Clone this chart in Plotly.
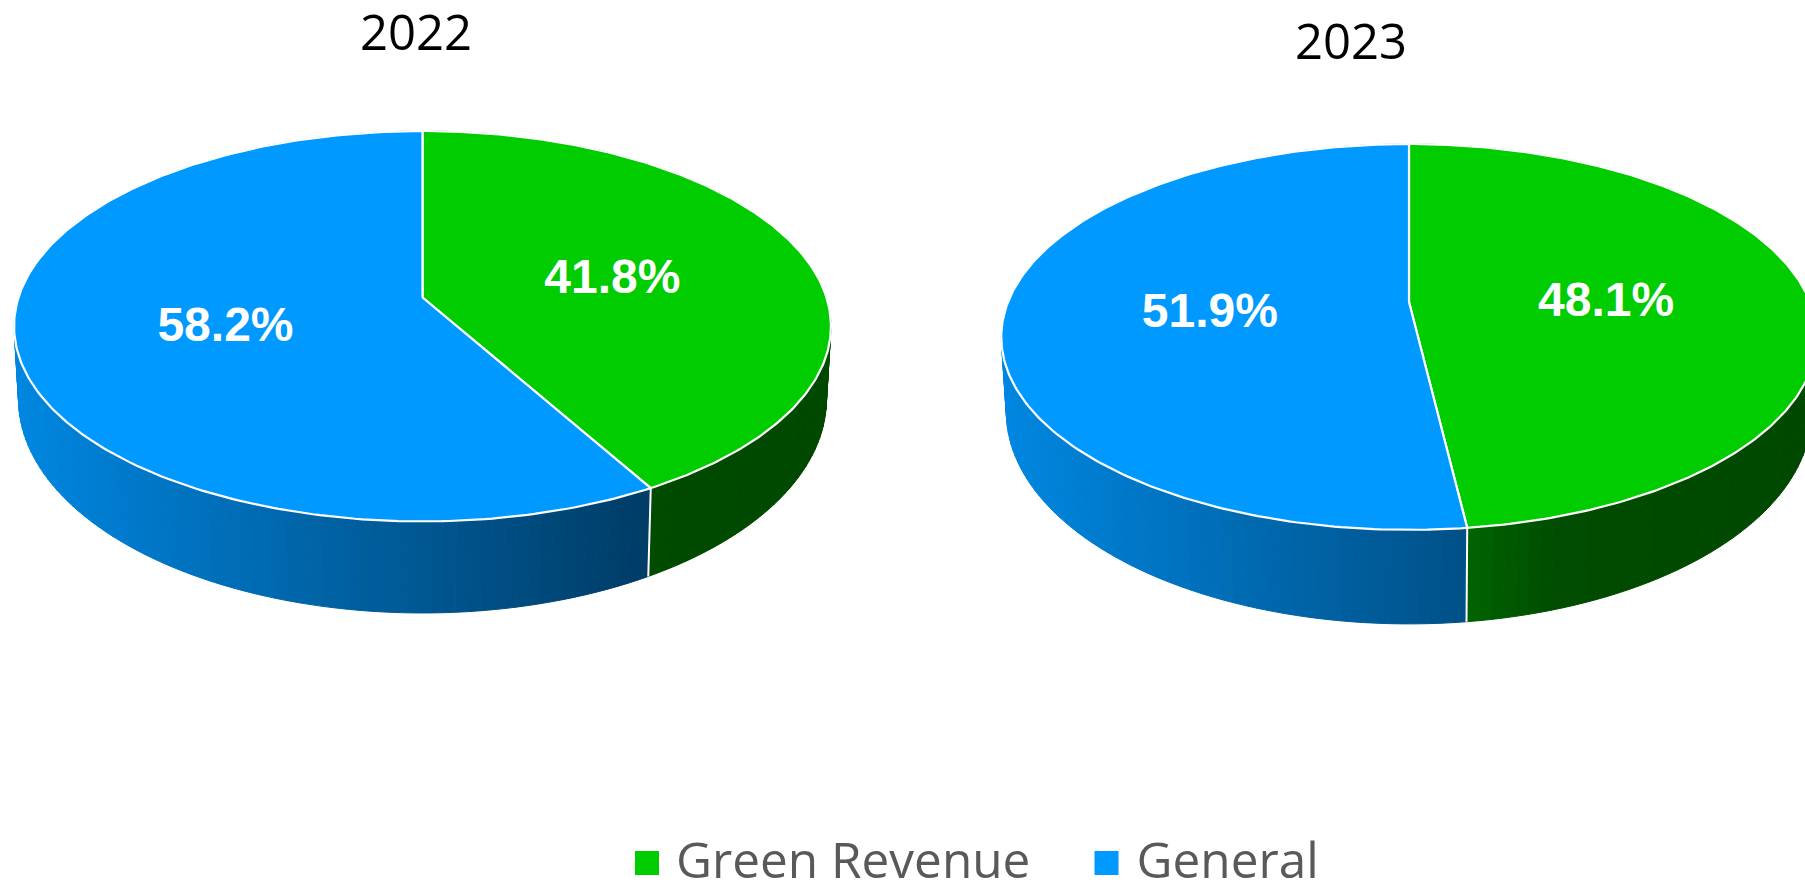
import numpy as np
import plotly.graph_objects as go

# ---- data ----
years = ["2022", "2023"]
categories = ["Green Revenue", "General"]
green_share = [41.8, 48.1]
general_share = [58.2, 51.9]

# ---- drawing set-up (pixels of the 1805x886 page) ----
W, H = 1805, 886
FACE_COLORS = {"Green Revenue": "#00CC00", "General": "#0099FF"}
PIES = [
    dict(cx=422.5, cy=297.5, A=191.0, B=404.0, k=0.147,
         base_cy=367.5, base_A=209.4, base_B=399.6, title_xy=(416, 31)),
    dict(cx=1409.0, cy=302.0, A=186.6, B=401.0, k=0.181,
         base_cy=373.6, base_A=205.0, base_B=396.0, title_xy=(1351, 40)),
]
LABEL_DROP = 7
LEGEND_Y = 863
LEGEND_TEXT_Y = 866
LEGEND_MARKER_X = {"Green Revenue": 647, "General": 1106.5}
LEGEND_TEXT_X = {"Green Revenue": 676, "General": 1136.5}


def project(p, theta, r=1.0, base=False):
    """Angle in radians clockwise from 12 o'clock -> page pixels, perspective disc."""
    u, v = r * np.sin(theta), -r * np.cos(theta)
    d = 1 - p["k"] * v
    if base:
        return p["cx"] + p["base_B"] * u / d, p["base_cy"] + p["base_A"] * v / d
    return p["cx"] + p["B"] * u / d, p["cy"] + p["A"] * v / d


def side_color(cat, t):
    if cat == "General":
        return f"rgb(0,{135 - 96 * t:.0f},{225 - 158 * t:.0f})"
    g = np.interp(t, [0.5, 0.57, 0.68, 1.0], [108, 100, 76, 72])
    return f"rgb(0,{g:.0f},0)"


fig = go.Figure()

for p, g_val, b_val in zip(PIES, green_share, general_share):
    total = g_val + b_val
    split = 2 * np.pi * g_val / total
    spans = [("Green Revenue", 0.0, split), ("General", split, 2 * np.pi)]
    quads = []
    for cat, a0, a1 in spans:
        n = int(np.ceil((a1 - a0) / np.radians(1.5)))
        edges = np.linspace(a0, a1, n + 1)
        for e0, e1 in zip(edges[:-1], edges[1:]):
            quads.append((-np.cos((e0 + e1) / 2), cat, e0, e1))
    quads.sort(key=lambda q: q[0])
    x_left = p["cx"] - p["B"] / np.sqrt(1 - p["k"] ** 2)
    x_span = 2 * p["B"] / np.sqrt(1 - p["k"] ** 2)
    for _, cat, e0, e1 in quads:
        tx0, ty0 = project(p, e0)
        tx1, ty1 = project(p, e1)
        bx1, by1 = project(p, e1, base=True)
        bx0, by0 = project(p, e0, base=True)
        t = float(np.clip(((tx0 + tx1) / 2 - x_left) / x_span, 0, 1))
        c = side_color(cat, t)
        fig.add_trace(go.Scatter(
            x=[tx0, tx1, bx1, bx0, tx0], y=[ty0, ty1, by1, by0, ty0],
            mode="lines", fill="toself", fillcolor=c,
            line=dict(color=c, width=1), hoverinfo="skip", showlegend=False))
    sx0, sy0 = project(p, split)
    sx1, sy1 = project(p, split, base=True)
    fig.add_trace(go.Scatter(x=[sx0, sx1], y=[sy0, sy1], mode="lines",
                             line=dict(color="white", width=2),
                             hoverinfo="skip", showlegend=False))
    for cat, a0, a1 in spans:
        th = np.linspace(a0, a1, 240)
        ex, ey = project(p, th)
        xs = np.r_[p["cx"], ex, p["cx"]]
        ys = np.r_[p["cy"], ey, p["cy"]]
        fig.add_trace(go.Scatter(x=xs, y=ys, mode="lines", fill="toself",
                                 fillcolor=FACE_COLORS[cat],
                                 line=dict(color="white", width=2.2),
                                 hoverinfo="skip", showlegend=False))
    for (cat, a0, a1), val in zip(spans, (g_val, b_val)):
        lx, ly = project(p, (a0 + a1) / 2, r=0.495)
        fig.add_trace(go.Scatter(
            x=[float(lx)], y=[float(ly) + LABEL_DROP], mode="text", text=[f"{val:.1f}%"],
            textposition="middle center",
            textfont=dict(family="Liberation Sans", size=48, color="white", weight="bold"),
            hoverinfo="skip", showlegend=False))

# legend keys and names
for cat in categories:
    fig.add_trace(go.Scatter(
        x=[LEGEND_MARKER_X[cat]], y=[LEGEND_Y], mode="markers",
        marker=dict(symbol="square", size=24, color=FACE_COLORS[cat]),
        hoverinfo="skip", showlegend=False))
    fig.add_trace(go.Scatter(
        x=[LEGEND_TEXT_X[cat]], y=[LEGEND_TEXT_Y], mode="text", text=[cat],
        textposition="middle right",
        textfont=dict(family="Open Sans", size=49.5, color="#595959"),
        hoverinfo="skip", showlegend=False))

for yr, p in zip(years, PIES):
    fig.add_annotation(x=p["title_xy"][0], y=p["title_xy"][1], xref="x", yref="y",
                       text=yr, showarrow=False, xanchor="center", yanchor="middle",
                       font=dict(family="Open Sans", size=49, color="#000000"))

fig.update_layout(
    width=W, height=H, margin=dict(l=0, r=0, t=0, b=0),
    paper_bgcolor="white", plot_bgcolor="white", showlegend=False,
    xaxis=dict(range=[0, W], visible=False, fixedrange=True),
    yaxis=dict(range=[H, 0], visible=False, fixedrange=True),
)
fig.write_html(
    "out.html", config={"displayModeBar": False},
    post_script="document.body.style.margin='0';document.documentElement.style.overflow='hidden';",
)
